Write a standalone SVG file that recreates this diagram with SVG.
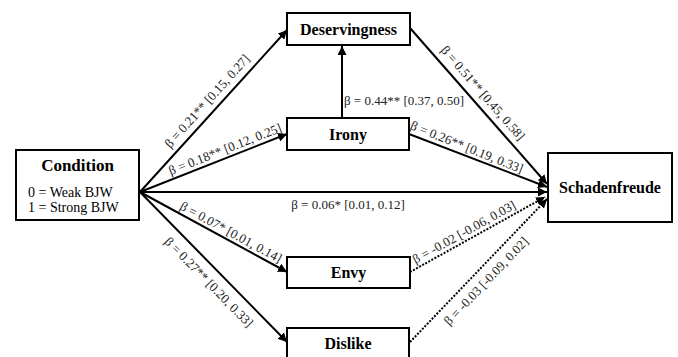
<svg xmlns="http://www.w3.org/2000/svg" width="678" height="357" viewBox="0 0 678 357">
<style>
.box{fill:#fff;stroke:#000;stroke-width:2}
.nl{font-family:'Liberation Serif',serif;font-weight:bold;font-size:16px;fill:#000;text-anchor:middle}
.sl{font-family:'Liberation Serif',serif;font-size:14px;fill:#000}
.el{font-family:'Liberation Serif',serif;font-size:13px;fill:#222;text-anchor:middle}
.ln{stroke:#000;stroke-width:2;fill:none;marker-end:url(#ah)}
.dt{stroke-dasharray:2 1.5}
</style>
<defs>
<marker id="ah" viewBox="0 0 10 10" refX="10" refY="5" markerWidth="4.5" markerHeight="4.5" orient="auto" markerUnits="strokeWidth">
<path d="M0,0 L10,5 L0,10 Z" fill="#000"/>
</marker>
</defs>
<rect width="678" height="357" fill="#fff"/>
<g id="connectors">
<line class="ln" x1="140" y1="192" x2="287" y2="30"/>
<line class="ln" x1="140" y1="192" x2="287" y2="134"/>
<line class="ln" x1="140" y1="192" x2="547" y2="192"/>
<line class="ln" x1="140" y1="192" x2="287" y2="272"/>
<line class="ln" x1="140" y1="192" x2="287" y2="342"/>
<line class="ln" x1="342" y1="118" x2="342" y2="46"/>
<line class="ln" x1="410" y1="28" x2="547" y2="184"/>
<line class="ln" x1="409" y1="134" x2="547" y2="187"/>
<line class="ln dt" x1="410" y1="272" x2="545" y2="197"/>
<line class="ln dt" x1="410" y1="342" x2="547" y2="199"/>
<text class="el" x="207" y="105.5" transform="rotate(-48 207 101)">β = 0.21** [0.15, 0.27]</text>
<text class="el" x="225" y="153.5" transform="rotate(-21.5 225 149)">β = 0.18** [0.12, 0.25]</text>
<text class="el" x="404" y="105">β = 0.44** [0.37, 0.50]</text>
<text class="el" x="483" y="97.5" transform="rotate(49 483 93)">β = 0.51** [0.45, 0.58]</text>
<text class="el" x="467" y="151.5" transform="rotate(21.8 467 147)">β = 0.26** [0.19, 0.33]</text>
<text class="el" x="348" y="209">β = 0.06* [0.01, 0.12]</text>
<text class="el" x="231" y="236.5" transform="rotate(28.6 231 232)">β = 0.07* [0.01, 0.14]</text>
<text class="el" x="209" y="286.5" transform="rotate(45.6 209 282)">β = 0.27** [0.20, 0.33]</text>
<text class="el" x="464" y="236.5" transform="rotate(-29.1 464 232)">β = -0.02 [-0.06, 0.03]</text>
<text class="el" x="486" y="285.5" transform="rotate(-46.4 486 281)">β = -0.03 [-0.09, 0.02]</text>
</g>
<g id="condition">
<rect class="box" x="16" y="150" width="123" height="70"/>
<text class="nl" x="77.5" y="171" style="font-size:17px">Condition</text>
<text class="sl" x="28" y="197">0 = Weak BJW</text>
<text class="sl" x="28" y="212">1 = Strong BJW</text>
</g>
<g id="deservingness">
<rect class="box" x="287" y="13" width="123" height="32"/>
<text class="nl" x="348.5" y="35">Deservingness</text>
</g>
<g id="irony">
<rect class="box" x="287" y="118" width="122" height="32"/>
<text class="nl" x="348" y="140">Irony</text>
</g>
<g id="envy">
<rect class="box" x="287" y="257" width="123" height="31"/>
<text class="nl" x="348.5" y="278">Envy</text>
</g>
<g id="dislike">
<rect class="box" x="287" y="328" width="122" height="32"/>
<text class="nl" x="348" y="349">Dislike</text>
</g>
<g id="schadenfreude">
<rect class="box" x="548" y="153" width="124" height="69"/>
<text class="nl" x="610" y="193">Schadenfreude</text>
</g>
</svg>
